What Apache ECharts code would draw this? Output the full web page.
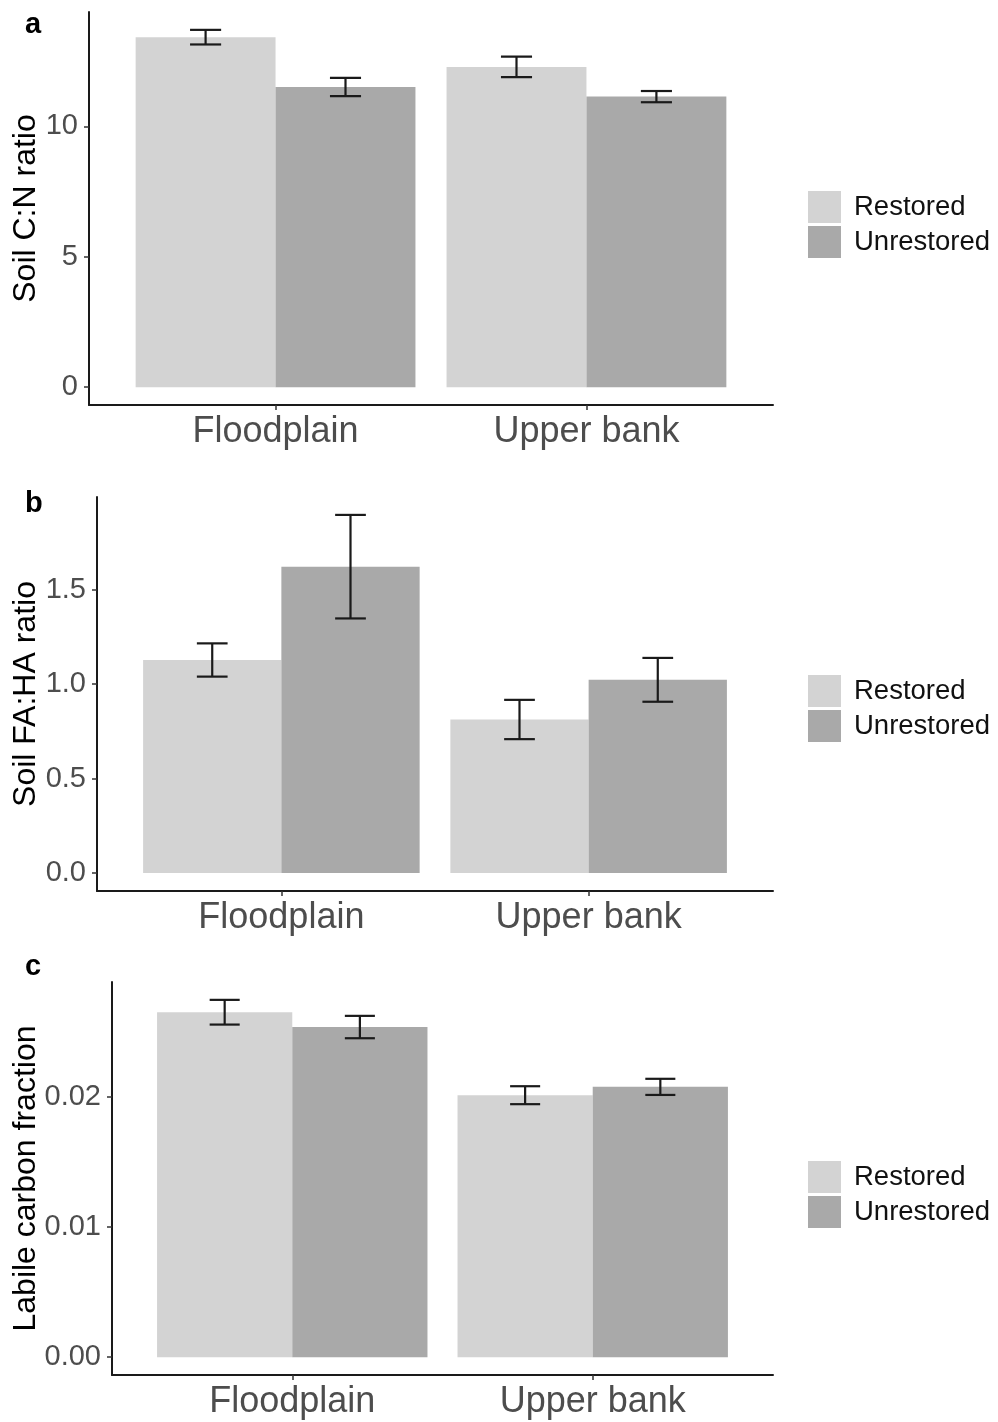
<!DOCTYPE html>
<html>
<head>
<meta charset="utf-8">
<title>Soil properties in restored and unrestored riparian sites</title>
<script src="https://cdn.jsdelivr.net/npm/echarts@6/dist/echarts.min.js"></script>
<style>
  html, body { margin: 0; padding: 0; background: #ffffff; }
  #chart { width: 998px; height: 1422px; }
</style>
</head>
<body>
<div id="chart"></div>
<script>
// Landscape positions and treatment groups
const sites = ['Floodplain', 'Upper bank'];
const groups = ['Restored', 'Unrestored'];

// (a) Soil C:N ratio, mean and standard error per site
const cnRestored = [13.42, 12.28];
const cnRestoredSe = [0.28, 0.39];
const cnUnrestored = [11.51, 11.14];
const cnUnrestoredSe = [0.35, 0.215];

// (b) Soil FA:HA ratio
const faRestored = [1.128, 0.813];
const faRestoredSe = [0.088, 0.104];
const faUnrestored = [1.622, 1.023];
const faUnrestoredSe = [0.274, 0.116];

// (c) Labile carbon fraction
const lcRestored = [0.02652, 0.02014];
const lcRestoredSe = [0.00095, 0.00069];
const lcUnrestored = [0.02538, 0.02078];
const lcUnrestoredSe = [0.00086, 0.00062];

// Y tick positions and labels per panel
const cnTicks = [0, 5, 10];
const cnTickLabels = ['0', '5', '10'];
const faTicks = [0, 0.5, 1.0, 1.5];
const faTickLabels = ['0.0', '0.5', '1.0', '1.5'];
const lcTicks = [0, 0.01, 0.02];
const lcTickLabels = ['0.00', '0.01', '0.02'];

const fillColors = ['#D3D3D3', '#A9A9A9'];
const FONT = '"Liberation Sans", Arial, Helvetica, sans-serif';
const DODGE = 0.45;   // width of one bar in site units
const CAP = 0.05;     // half width of an error bar cap

const panels = [
  { letter: 'a', title: 'Soil C:N ratio', means: [cnRestored, cnUnrestored], ses: [cnRestoredSe, cnUnrestoredSe],
    ticks: cnTicks, tickLabels: cnTickLabels,
    grid: { left: 89, top: 12, width: 684, height: 393 }, nameGap: 47, legendTop: 191, letterTop: 5 },
  { letter: 'b', title: 'Soil FA:HA ratio', means: [faRestored, faUnrestored], ses: [faRestoredSe, faUnrestoredSe],
    ticks: faTicks, tickLabels: faTickLabels,
    grid: { left: 97, top: 497, width: 676, height: 394 }, nameGap: 55, legendTop: 675, letterTop: 484 },
  { letter: 'c', title: 'Labile carbon fraction', means: [lcRestored, lcUnrestored], ses: [lcRestoredSe, lcUnrestoredSe],
    ticks: lcTicks, tickLabels: lcTickLabels,
    grid: { left: 112, top: 982, width: 661, height: 393 }, nameGap: 70, legendTop: 1161, letterTop: 947 }
];

// Bars: one rectangle per site, dodged left/right by group
function renderBar(params, api) {
  const site = api.value(0);
  const mean = api.value(1);
  const g = api.value(2);
  const left = site - DODGE + g * DODGE;
  const pTop = api.coord([left, mean]);
  const pBase = api.coord([left + DODGE, 0]);
  return {
    type: 'rect',
    shape: { x: pTop[0], y: pTop[1], width: pBase[0] - pTop[0], height: pBase[1] - pTop[1] },
    style: api.style()
  };
}

// Error bars: whisker plus two caps
function renderErr(params, api) {
  const x = api.value(0);
  const lo = api.value(1);
  const hi = api.value(2);
  const top = api.coord([x, hi]);
  const bot = api.coord([x, lo]);
  const l = api.coord([x - CAP, hi])[0];
  const r = api.coord([x + CAP, hi])[0];
  const st = { stroke: '#1a1a1a', lineWidth: 2.2 };
  return {
    type: 'group',
    children: [
      { type: 'line', shape: { x1: top[0], y1: top[1], x2: bot[0], y2: bot[1] }, style: st },
      { type: 'line', shape: { x1: l, y1: top[1], x2: r, y2: top[1] }, style: st },
      { type: 'line', shape: { x1: l, y1: bot[1], x2: r, y2: bot[1] }, style: st }
    ]
  };
}

const option = {
  backgroundColor: '#ffffff',
  animation: false,
  textStyle: { fontFamily: FONT },
  title: [], grid: [], xAxis: [], yAxis: [], legend: [], series: []
};

panels.forEach((p, i) => {
  // 5% expansion below zero and above the highest whisker
  let top = 0;
  p.means.forEach((m, g) => m.forEach((v, s) => { top = Math.max(top, v + p.ses[g][s]); }));
  const pad = 0.05 * top;

  option.title.push({
    text: p.letter, left: 20, top: p.letterTop,
    textStyle: { fontFamily: FONT, fontSize: 29, fontWeight: 'bold', color: '#000' }
  });
  option.grid.push(Object.assign({ containLabel: false, outerBoundsMode: 'none' }, p.grid));
  option.xAxis.push({
    type: 'value', gridIndex: i, min: 0.4, max: 2.6,
    splitLine: { show: false },
    axisLine: { onZero: false, lineStyle: { color: '#1a1a1a', width: 2 } },
    axisTick: { customValues: [1, 2], length: 5, lineStyle: { color: '#333', width: 1.5 } },
    axisLabel: {
      customValues: [1, 2], margin: 9,
      formatter: v => sites[Math.round(v) - 1],
      fontFamily: FONT, fontSize: 36, color: '#4D4D4D'
    }
  });
  option.yAxis.push({
    type: 'value', gridIndex: i, min: -pad, max: top + pad,
    name: p.title, nameLocation: 'middle', nameGap: p.nameGap, nameMoveOverlap: false,
    nameTextStyle: { fontFamily: FONT, fontSize: 32, color: '#000' },
    splitLine: { show: false },
    axisLine: { onZero: false, lineStyle: { color: '#1a1a1a', width: 2 } },
    axisTick: { customValues: p.ticks, length: 5, lineStyle: { color: '#333', width: 1.5 } },
    axisLabel: {
      customValues: p.ticks, margin: 11,
      formatter: v => p.tickLabels[p.ticks.findIndex(t => Math.abs(t - v) < 1e-9)],
      fontFamily: FONT, fontSize: 29, color: '#4D4D4D'
    }
  });
  option.legend.push({
    data: groups.map(g => ({ name: g, icon: 'rect' })),
    orient: 'vertical', left: 808, top: p.legendTop, padding: 0,
    itemWidth: 33, itemHeight: 32, itemGap: 3,
    selectedMode: false,
    textStyle: { fontFamily: FONT, fontSize: 27.5, color: '#111', padding: [3, 0, 0, 8] }
  });

  groups.forEach((g, gi) => {
    option.series.push({
      type: 'custom', name: g, xAxisIndex: i, yAxisIndex: i,
      renderItem: renderBar,
      itemStyle: { color: fillColors[gi] },
      encode: { x: 0, y: 1 },
      data: sites.map((s, si) => [si + 1, p.means[gi][si], gi])
    });
  });
  groups.forEach((g, gi) => {
    option.series.push({
      type: 'custom', name: g + ' SE', xAxisIndex: i, yAxisIndex: i,
      renderItem: renderErr, z: 3,
      encode: { x: 0, y: [1, 2] },
      data: sites.map((s, si) => {
        const c = si + 1 - DODGE / 2 + gi * DODGE;
        return [c, p.means[gi][si] - p.ses[gi][si], p.means[gi][si] + p.ses[gi][si]];
      })
    });
  });
});

const chart = echarts.init(document.getElementById('chart'), null, { renderer: 'canvas' });
chart.setOption(option);
</script>
</body>
</html>
